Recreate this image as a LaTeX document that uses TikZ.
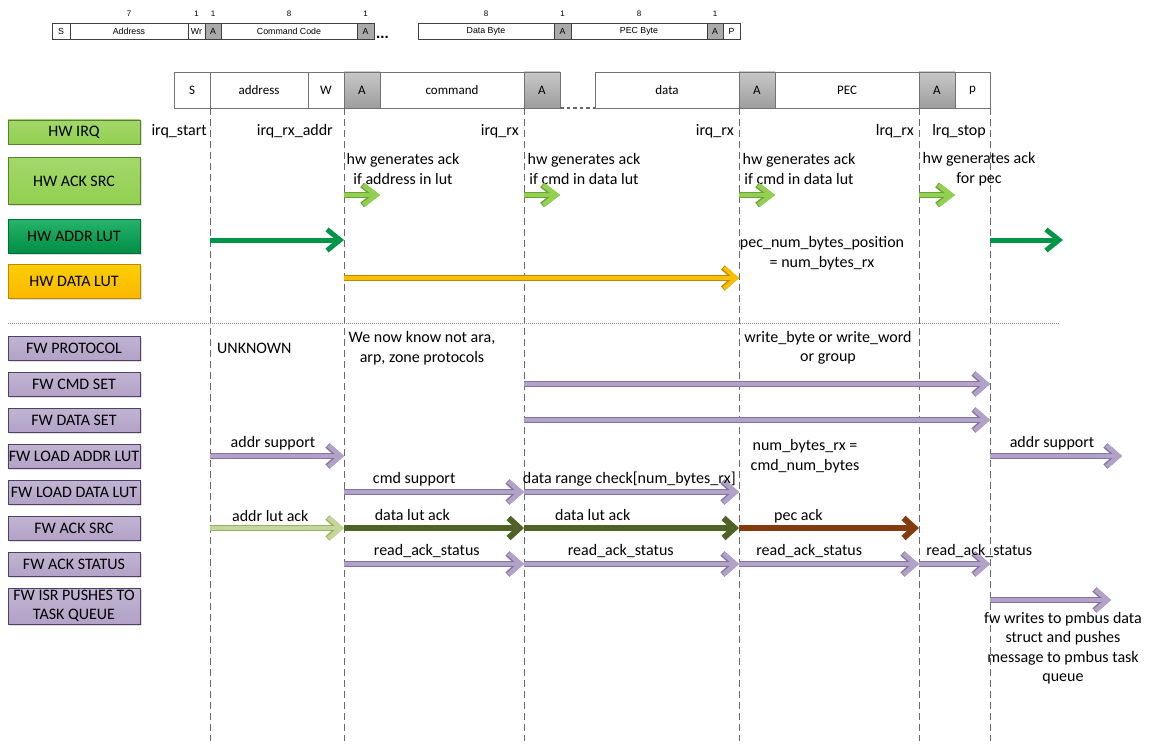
\documentclass[tikz,border=0pt]{standalone}
\usepackage{fontspec}
\setmainfont{Carlito}
\newfontfamily\arialfont{Liberation Sans}
\usetikzlibrary{arrows.meta,shadows,positioning,calc}
\definecolor{hwlt}{RGB}{146,208,80}
\definecolor{hwltD}{RGB}{112,160,58}
\definecolor{hwdk}{RGB}{0,166,80}
\definecolor{hwdkD}{RGB}{0,112,56}
\definecolor{hwgold}{RGB}{250,190,0}
\definecolor{hwgoldD}{RGB}{185,138,0}
\definecolor{fwpur}{RGB}{178,162,199}
\definecolor{fwpurD}{RGB}{80,64,104}
\definecolor{fwarrD}{RGB}{132,114,162}
\definecolor{olvlt}{RGB}{196,214,155}
\definecolor{olvltD}{RGB}{150,180,92}
\definecolor{olvdk}{RGB}{79,98,40}
\definecolor{pecbr}{RGB}{132,60,12}
\definecolor{tlgray}{RGB}{105,105,105}
\definecolor{ackgray}{RGB}{170,170,170}

\begin{document}
\begin{tikzpicture}[x=1pt,y=-1pt,
  font=\fontsize{16}{19.5}\selectfont,
  sbox/.style={rectangle,draw=black!75,fill=white,minimum height=16pt,inner sep=0pt,outer sep=0pt,
               font=\arialfont\fontsize{8.8}{10}\selectfont},
  sack/.style={sbox,fill=ackgray},
  bits/.style={inner sep=1pt,font=\arialfont\fontsize{8}{9}\selectfont},
  mbox/.style={rectangle,draw=black!55,fill=white,minimum height=36pt,inner sep=0pt,outer sep=0pt,
               font=\fontsize{13}{15}\selectfont},
  mack/.style={mbox,top color=black!22,bottom color=black!38},
  hwbox/.style={rectangle,draw=hwltD!80!black,top color=hwlt!85!white,bottom color=hwlt,
                minimum width=132pt,inner sep=1pt,drop shadow={opacity=0.25,shadow xshift=1.5pt,shadow yshift=-1.5pt}},
  fwbox/.style={rectangle,draw=fwpurD,top color=fwpur!80!white,bottom color=fwpur,
                minimum width=132pt,minimum height=24pt,inner sep=1pt,align=center,
                drop shadow={opacity=0.25,shadow xshift=1.5pt,shadow yshift=-1.5pt}},
  tline/.style={draw=tlgray,line width=0.8pt,dash pattern=on 7pt off 4pt},
  lbl/.style={inner sep=0pt,align=center},
  elbl/.style={inner sep=1pt,above=3pt},
  hwack/.style={draw=hwlt,line width=4.5pt,-{Straight Barb[length=13pt,width=20pt]},
                preaction={draw=hwltD,line width=6pt}},
  hwaddr/.style={draw=hwdk!90!black,line width=5pt,-{Straight Barb[length=13pt,width=21pt]}},
  hwdata/.style={draw=hwgold,line width=4pt,-{Straight Barb[length=12pt,width=21pt]},
                 preaction={draw=hwgoldD,line width=5.5pt}},
  fwarr/.style={draw=fwpur,line width=4.5pt,-{Straight Barb[length=12pt,width=21pt]},
                preaction={draw=fwarrD,line width=6pt}},
  olvarr/.style={draw=olvlt,line width=4.5pt,-{Straight Barb[length=12pt,width=21pt]},
                 preaction={draw=olvltD,line width=6pt}},
  dolvarr/.style={draw=olvdk,line width=6pt,-{Straight Barb[length=11pt,width=20pt]}},
  pecarr/.style={draw=pecbr,line width=6pt,-{Straight Barb[length=11pt,width=20pt]}}]

  \useasboundingbox (0,0) rectangle (1157,749);

  % frame format strip at the top
  \node[sbox,minimum width=18pt,anchor=west] (tS) at (52,31) {S};
  \node[sbox,minimum width=118pt,right=0pt of tS] (tAddr) {Address};
  \node[sbox,minimum width=17pt,right=0pt of tAddr] (tWr) {Wr};
  \node[sack,minimum width=16pt,right=0pt of tWr] (tA1) {A};
  \node[sbox,minimum width=136pt,right=0pt of tA1] (tCmd) {Command Code};
  \node[sack,minimum width=17pt,right=0pt of tCmd] (tA2) {A};
  \node[inner sep=0pt,anchor=base west,font=\arialfont\bfseries\fontsize{15}{15}\selectfont] (tDots) at (376,39) {...};
  \node[sbox,minimum width=136pt,anchor=west] (tData) at (418,31) {Data Byte};
  \node[sack,minimum width=17pt,right=0pt of tData] (tA3) {A};
  \node[sbox,minimum width=136pt,right=0pt of tA3] (tPec) {PEC Byte};
  \node[sack,minimum width=16pt,right=0pt of tPec] (tA4) {A};
  \node[sbox,minimum width=17pt,right=0pt of tA4] (tP) {P};

  \node[bits,above=5pt of tAddr] (bAddr) {7};
  \node[bits,above=5pt of tWr] (bWr) {1};
  \node[bits,above=5pt of tA1] (bA1) {1};
  \node[bits,above=5pt of tCmd] (bCmd) {8};
  \node[bits,above=5pt of tA2] (bA2) {1};
  \node[bits,above=5pt of tData] (bData) {8};
  \node[bits,above=5pt of tA3] (bA3) {1};
  \node[bits,above=5pt of tPec] (bPec) {8};
  \node[bits,above=5pt of tA4] (bA4) {1};

  % bus transaction
  \node[mbox,minimum width=36pt,anchor=west] (mS) at (174,90) {S};
  \node[mbox,minimum width=98pt,right=0pt of mS] (mAddr) {address};
  \node[mbox,minimum width=36pt,right=0pt of mAddr] (mW) {W};
  \node[mack,minimum width=36pt,right=0pt of mW] (mA1) {A};
  \node[mbox,minimum width=144pt,right=0pt of mA1] (mCmd) {command};
  \node[mack,minimum width=36pt,right=0pt of mCmd] (mA2) {A};
  \node[mbox,minimum width=144pt,anchor=west] (mData) at (595,90) {data};
  \node[mack,minimum width=36pt,right=0pt of mData] (mA3) {A};
  \node[mbox,minimum width=144pt,right=0pt of mA3] (mPec) {PEC};
  \node[mack,minimum width=36pt,right=0pt of mPec] (mA4) {A};
  \node[mbox,minimum width=35pt,right=0pt of mA4] (mP) {p};
  \draw[draw=black!60,line width=2.5pt,dash pattern=on 3.5pt off 3pt] (mA2.south east) -- (mData.south west);

  % time lines
  \coordinate (l1) at (mS.south east);
  \coordinate (l2) at (mA1.south west);
  \coordinate (l3) at (mA2.south west);
  \coordinate (l4) at (mA3.south west);
  \coordinate (l5) at (mA4.south west);
  \coordinate (l6) at (mP.south east);
  \coordinate (bot) at (0,741);
  \foreach \l in {l1,l2,l3,l4,l5,l6}
    \draw[tline] (\l) -- (\l |- bot);

  % row heads
  \node[hwbox,minimum height=24pt] (hwIrq) at (74,132) {HW IRQ};
  \node[hwbox,minimum height=47pt] (hwAck) at (74,181) {HW ACK SRC};
  \node[hwbox,minimum height=34pt,draw=hwdkD,top color=hwdk!85!white,bottom color=hwdk!85!black] (hwAddr) at (74,236) {HW ADDR LUT};
  \node[hwbox,minimum height=34pt,draw=hwgoldD,top color=hwgold!75!yellow,bottom color=hwgold!90!orange] (hwData) at (74,281) {HW DATA LUT};

  \draw[draw=black!45,line width=0.7pt,dash pattern=on 1pt off 1pt] (8,323) -- (1060,323);

  \node[fwbox] (fwProt) at (74,348) {FW PROTOCOL};
  \node[fwbox] (fwCmd) at (74,384) {FW CMD SET};
  \node[fwbox] (fwDset) at (74,420) {FW DATA SET};
  \node[fwbox] (fwLaddr) at (74,456) {FW LOAD ADDR LUT};
  \node[fwbox] (fwLdata) at (74,492) {FW LOAD DATA LUT};
  \node[fwbox] (fwAck) at (74,528) {FW ACK SRC};
  \node[fwbox] (fwStat) at (74,564) {FW ACK STATUS};
  \node[fwbox,minimum height=36pt,font=\fontsize{16}{18.5}\selectfont] (fwIsr) at (74,606) {FW ISR PUSHES TO\\TASK QUEUE};

  % hw interrupts
  \node[lbl,anchor=east] (qStart) at (207,131) {irq\_start};
  \node[lbl,anchor=east] (qAddr) at (333,131) {irq\_rx\_addr};
  \node[lbl,anchor=east] (qRx1) at (519,131) {irq\_rx};
  \node[lbl,anchor=east] (qRx2) at (734,131) {irq\_rx};
  \node[lbl,anchor=east] (qRx3) at (914,131) {lrq\_rx};
  \node[lbl,anchor=east] (qStop) at (986,131) {lrq\_stop};

  \node[lbl] (gAddr) at (403,169) {hw generates ack\\if address in lut};
  \node[lbl] (gCmd) at (584,169) {hw generates ack\\if cmd in data lut};
  \node[lbl] (gData) at (799,169) {hw generates ack\\if cmd in data lut};
  \node[lbl] (gPec) at (979,169) {hw generates ack\\for pec};
  \node[lbl] (pecPos) at (822,253) {pec\_num\_bytes\_position\\= num\_bytes\_rx};

  \coordinate (rAck) at (0,195);
  \coordinate (rAddr) at (0,240);
  \coordinate (rData) at (0,278);
  \coordinate (ackE1) at (380,195);
  \coordinate (ackE2) at (560,195);
  \coordinate (ackE3) at (775,195);
  \coordinate (ackE4) at (955,195);
  \coordinate (addrE) at (1063,240);

  \draw[hwack] (l2 |- rAck) -- (ackE1);
  \draw[hwack] (l3 |- rAck) -- (ackE2);
  \draw[hwack] (l4 |- rAck) -- (ackE3);
  \draw[hwack] (l5 |- rAck) -- (ackE4);
  \draw[hwaddr] (l1 |- rAddr) -- (l2 |- rAddr);
  \draw[hwaddr] (l6 |- rAddr) -- (addrE);
  \draw[hwdata] (l2 |- rData) -- (l4 |- rData);

  % firmware side
  \node[lbl,anchor=west] (pUnk) at (217,348) {UNKNOWN};
  \node[lbl] (pKnow) at (422,348) {We now know not ara,\\arp, zone protocols};
  \node[lbl] (pWrite) at (828,348) {write\_byte or write\_word\\or group};
  \node[lbl] (pNum) at (805,456) {num\_bytes\_rx =\\cmd\_num\_bytes};
  \node[lbl] (pPush) at (1063,648) {fw writes to pmbus data\\struct and pushes\\message to pmbus task\\queue};

  \coordinate (rIsr) at (0,600);
  \coordinate (laddrE) at (1122,456);
  \coordinate (isrE) at (1111,600);

  \draw[fwarr] (l3 |- fwCmd) -- (l6 |- fwCmd);
  \draw[fwarr] (l3 |- fwDset) -- (l6 |- fwDset);
  \draw[fwarr] (l1 |- fwLaddr) -- node[elbl,pos=0.47] (eAddr1) {addr support} (l2 |- fwLaddr);
  \draw[fwarr] (l6 |- fwLaddr) -- node[elbl,pos=0.47] (eAddr2) {addr support} (laddrE);
  \draw[fwarr] (l2 |- fwLdata) -- node[elbl,pos=0.39] (eCmd) {cmd support} (l3 |- fwLdata);
  \draw[fwarr] (l3 |- fwLdata) -- node[elbl,pos=0.49] (eRange) {data range check[num\_bytes\_rx]} (l4 |- fwLdata);
  \draw[olvarr] (l1 |- fwAck) -- node[elbl,pos=0.45] (eAck1) {addr lut ack} (l2 |- fwAck);
  \draw[dolvarr] (l2 |- fwAck) -- node[elbl,pos=0.38] (eAck2) {data lut ack} (l3 |- fwAck);
  \draw[dolvarr] (l3 |- fwAck) -- node[elbl,pos=0.32] (eAck3) {data lut ack} (l4 |- fwAck);
  \draw[pecarr] (l4 |- fwAck) -- node[elbl,pos=0.33,yshift=-2pt] (eAck4) {pec ack} (l5 |- fwAck);
  \draw[fwarr] (l2 |- fwStat) -- node[elbl,pos=0.46] (eSt1) {read\_ack\_status} (l3 |- fwStat);
  \draw[fwarr] (l3 |- fwStat) -- node[elbl,pos=0.45] (eSt2) {read\_ack\_status} (l4 |- fwStat);
  \draw[fwarr] (l4 |- fwStat) -- node[elbl,pos=0.39] (eSt3) {read\_ack\_status} (l5 |- fwStat);
  \draw[fwarr] (l5 |- fwStat) -- node[inner sep=1pt,above right=3pt and 4pt,pos=0] (eSt4) {read\_ack\_status} (l6 |- fwStat);
  \draw[fwarr] (l6 |- rIsr) -- (isrE);
\end{tikzpicture}
\end{document}
